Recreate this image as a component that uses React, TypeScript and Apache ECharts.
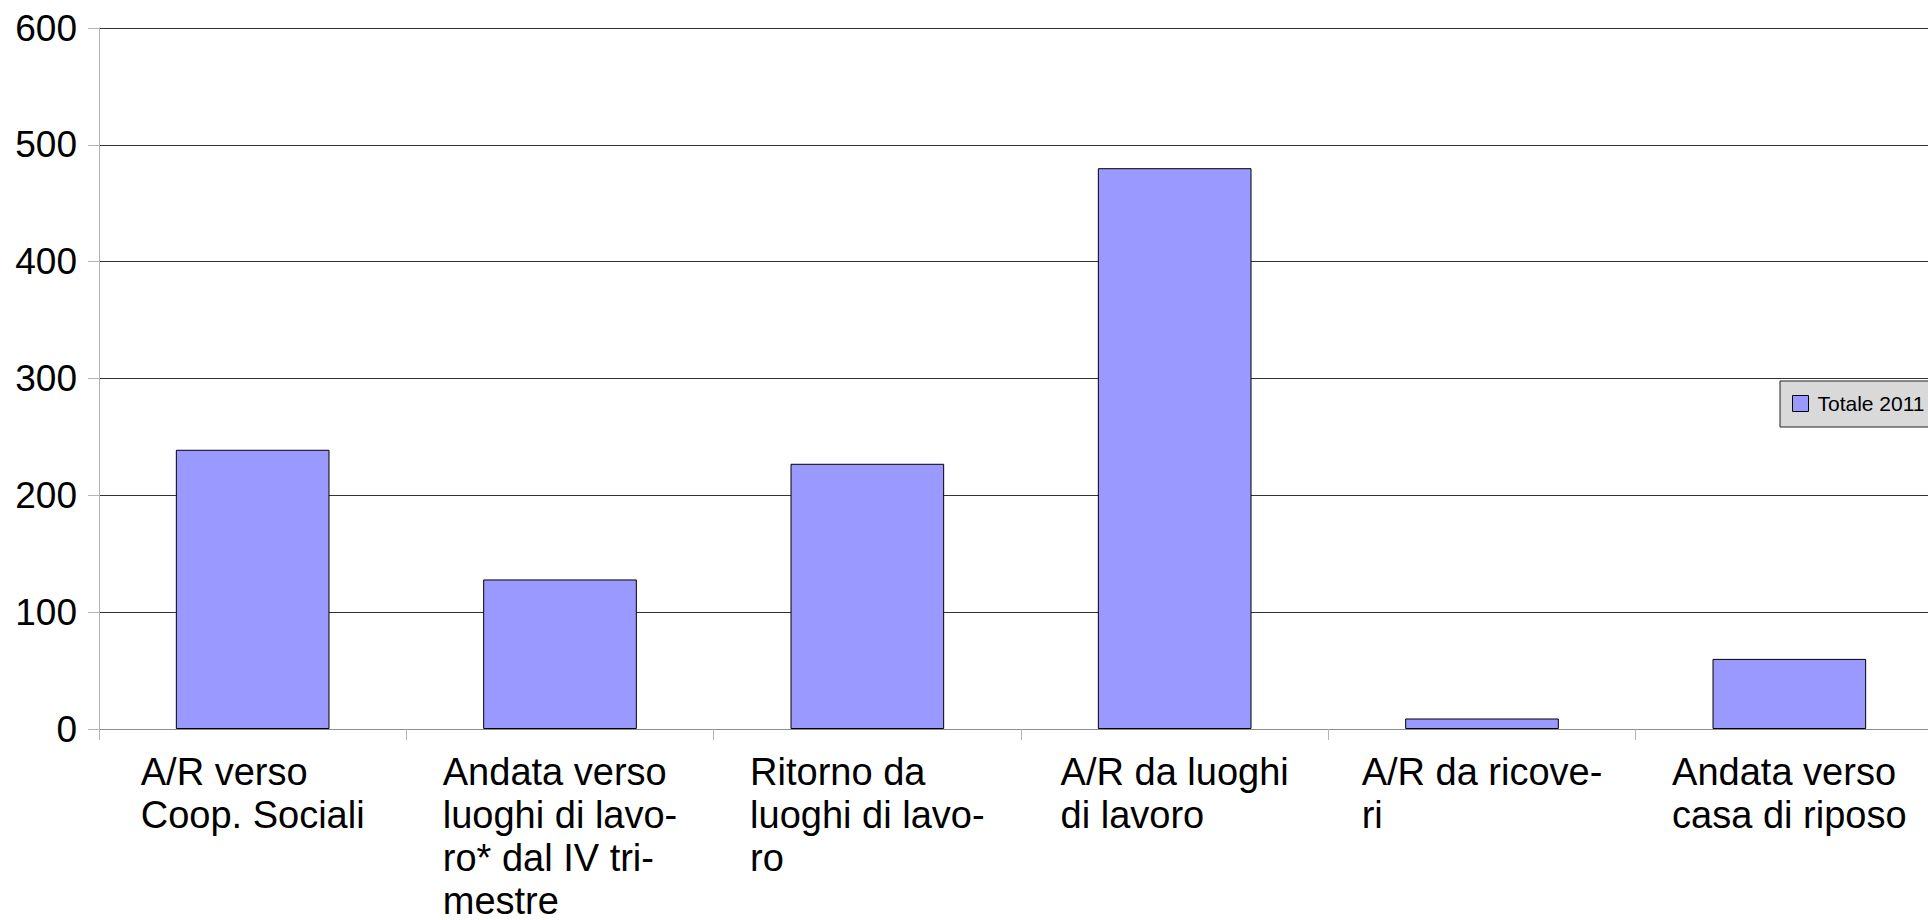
import React, { useEffect, useRef } from "react";
import * as echarts from "echarts";

const categories = [
  "A/R verso\nCoop. Sociali",
  "Andata verso\nluoghi di lavo-\nro* dal IV tri-\nmestre",
  "Ritorno da\nluoghi di lavo-\nro",
  "A/R da luoghi\ndi lavoro",
  "A/R da ricove-\nri",
  "Andata verso\ncasa di riposo",
];
const values = [239, 128, 227, 480, 9, 60];
const seriesName = "Totale 2011";
const yMin = 0;
const yMax = 600;
const yInterval = 100;

const FONT = "'Liberation Sans', Arial, sans-serif";

export default function App() {
  const ref = useRef<HTMLDivElement>(null);
  useEffect(() => {
    if (!ref.current) return;
    const chart = echarts.init(ref.current, null, { renderer: "svg" });
    chart.setOption({
      animation: false,
      backgroundColor: "#ffffff",
      textStyle: { fontFamily: FONT },
      grid: {
        left: 99,
        right: -15,
        top: 28,
        bottom: 191,
        outerBoundsMode: "none",
        containLabel: false,
      },
      legend: {
        show: true,
        left: 1780,
        top: 381,
        orient: "horizontal",
        padding: [12, 14, 13, 12],
        backgroundColor: "#d9d9d9",
        borderColor: "#222",
        borderWidth: 1,
        borderRadius: 0,
        itemWidth: 16,
        itemHeight: 16,
        icon: "rect",
        itemStyle: { borderColor: "#000", borderWidth: 1 },
        textStyle: {
          fontFamily: FONT,
          fontSize: 21,
          color: "#000",
          padding: [0, 0, 0, 4],
        },
        data: [seriesName],
      },
      xAxis: {
        type: "category",
        data: categories,
        boundaryGap: true,
        axisLine: { show: true, lineStyle: { color: "#8c8c8c", width: 1 } },
        axisTick: {
          show: true,
          length: 11,
          alignWithLabel: false,
          lineStyle: { color: "#b3b3b3" },
        },
        axisLabel: {
          show: true,
          interval: 0,
          margin: 21,
          align: "center",
          verticalAlign: "top",
          formatter: (v: string) =>
            v
              .split("\n")
              .map((l) => `{a|${l}}`)
              .join("\n"),
          rich: {
            a: {
              align: "left",
              fontFamily: FONT,
              fontSize: 38,
              lineHeight: 43,
              color: "#000",
            },
          },
        },
        splitLine: { show: false },
      },
      yAxis: {
        type: "value",
        min: yMin,
        max: yMax,
        interval: yInterval,
        axisLine: { show: true, lineStyle: { color: "#b3b3b3", width: 1 } },
        axisTick: {
          show: true,
          inside: false,
          length: 11,
          lineStyle: { color: "#b3b3b3" },
        },
        axisLabel: {
          show: true,
          margin: 22,
          fontFamily: FONT,
          fontSize: 37,
          color: "#000",
        },
        splitLine: { show: true, lineStyle: { color: "#333", width: 1 } },
      },
      series: [
        {
          name: seriesName,
          type: "bar",
          data: values,
          barWidth: "50%",
          itemStyle: {
            color: "#9999ff",
            borderColor: "#000",
            borderWidth: 1,
          },
        },
      ],
    });
    return () => chart.dispose();
  }, []);
  return (
    <div
      ref={ref}
      style={{ position: "fixed", left: 0, top: 0, width: 1928, height: 920 }}
    />
  );
}
